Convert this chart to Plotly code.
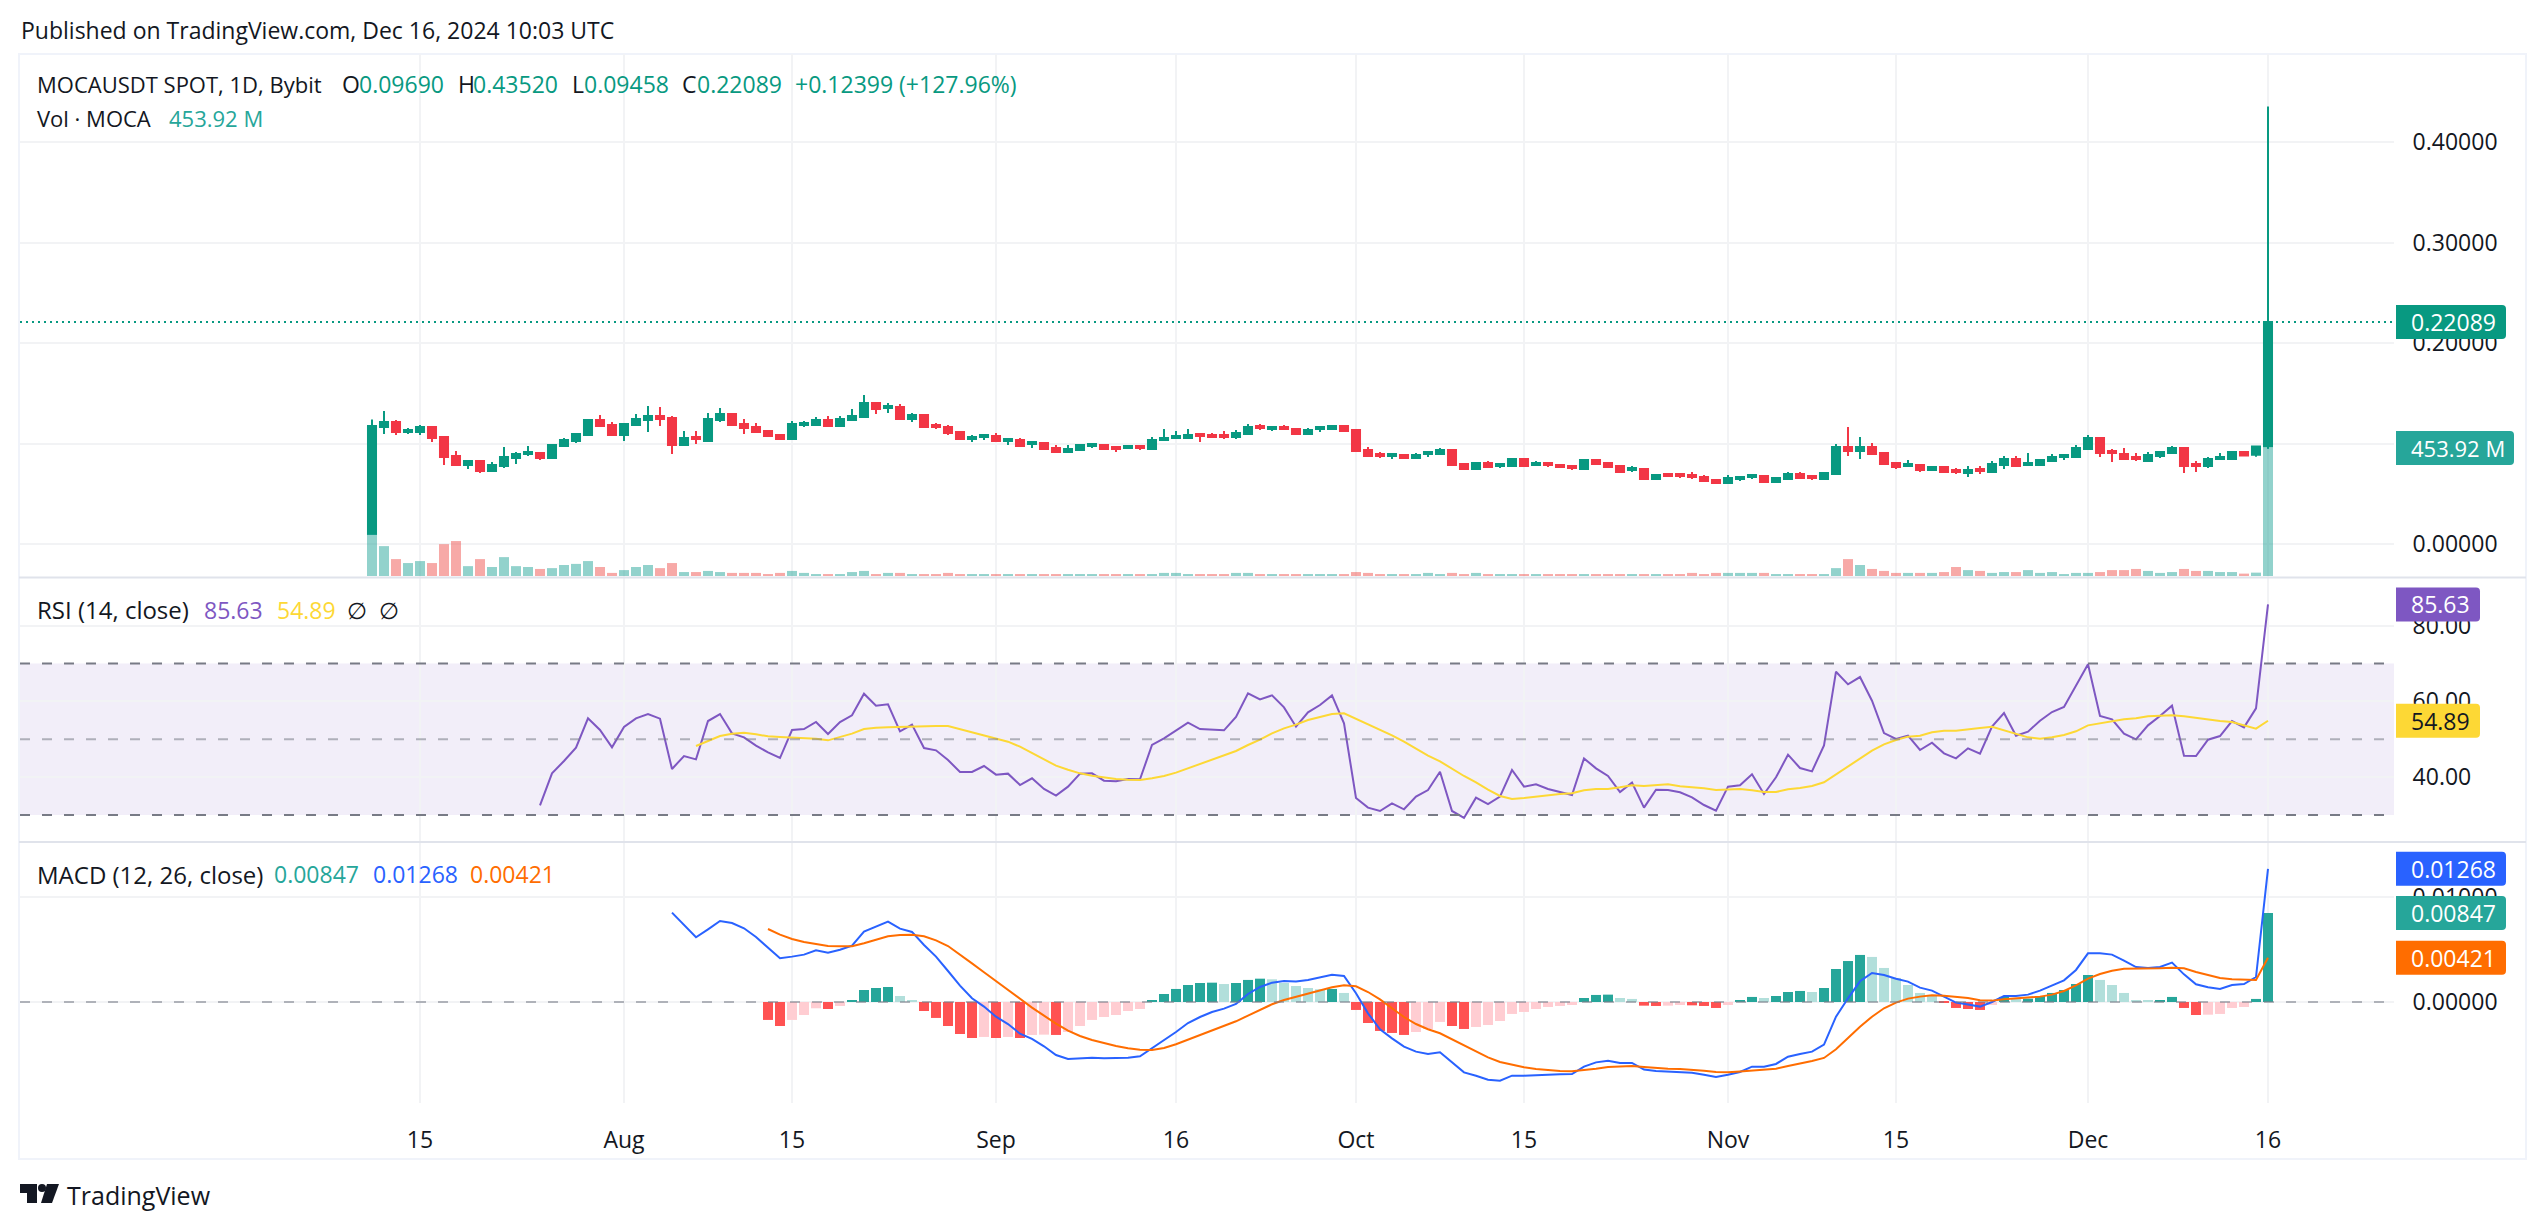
import pandas as pd
import plotly.graph_objects as go

W, H = 2546, 1230
FONT = "Open Sans"
INK = "#131722"
UP, DOWN = "#089981", "#F23645"

first_day = "2024-07-11"
opens = [
.0100,.1164,.1214,.1114,.1114,.1164,.1065,.0876,.0786,.0826,
.0726,.0776,.0856,.0896,.0905,.0856,.0975,.1025,.1085,.1234,
.1184,.1085,.1184,.1234,.1274,.1254,.0985,.1065,.1025,.1234,
.1294,.1194,.1164,.1124,.1085,.1045,.1184,.1184,.1234,.1174,
.1234,.1264,.1403,.1353,.1363,.1244,.1284,.1184,.1164,.1114,
.1045,.1065,.1075,.1025,.1035,.0995,.1005,.0955,.0915,.0935,
.0975,.0985,.0965,.0955,.0975,.0945,.1035,.1055,.1055,.1095,
.1085,.1085,.1065,.1095,.1174,.1144,.1164,.1144,.1095,.1144,
.1144,.1174,.1134,.0935,.0896,.0876,.0886,.0856,.0896,.0896,
.0935,.0796,.0746,.0806,.0776,.0776,.0846,.0786,.0806,.0786,
.0776,.0746,.0836,.0806,.0776,.0736,.0746,.0647,.0697,.0697,
.0687,.0667,.0637,.0607,.0647,.0667,.0677,.0617,.0647,.0697,
.0677,.0647,.0697,.0965,.0925,.0965,.0905,.0806,.0776,.0786,
.0736,.0766,.0736,.0706,.0746,.0716,.0786,.0846,.0786,.0786,
.0826,.0866,.0866,.0945,.1055,.0925,.0896,.0866,.0826,.0876,
.0905,.0955,.0796,.0776,.0846,.0846,.0915,.0887,.0969]
highs = [
.1240,.1323,.1234,.1154,.1184,.1164,.1065,.0925,.0836,.0826,
.0816,.0965,.0915,.0975,.0915,.0995,.1055,.1095,.1244,.1284,
.1214,.1204,.1294,.1373,.1363,.1274,.1124,.1124,.1303,.1353,
.1294,.1244,.1204,.1134,.1095,.1224,.1224,.1264,.1274,.1274,
.1343,.1483,.1403,.1403,.1393,.1303,.1294,.1204,.1184,.1124,
.1085,.1085,.1105,.1045,.1055,.1025,.1005,.0985,.0985,.0995,
.0995,.0985,.0965,.0985,.0975,.1065,.1144,.1124,.1144,.1095,
.1105,.1124,.1134,.1194,.1194,.1174,.1184,.1154,.1154,.1174,
.1174,.1184,.1144,.0965,.0915,.0905,.0896,.0905,.0925,.0955,
.0945,.0806,.0806,.0826,.0806,.0856,.0856,.0826,.0806,.0796,
.0776,.0846,.0846,.0816,.0786,.0776,.0756,.0697,.0697,.0697,
.0716,.0687,.0647,.0687,.0667,.0697,.0687,.0667,.0716,.0716,
.0687,.0716,.0995,.1164,.1065,.1005,.0915,.0816,.0836,.0796,
.0766,.0776,.0756,.0776,.0776,.0826,.0876,.0876,.0905,.0836,
.0896,.0886,.0985,.1085,.1065,.0945,.0955,.0905,.0915,.0925,
.0975,.0965,.0826,.0866,.0905,.0925,.0925,.0969,.4352]
lows = [
.0100,.1095,.1085,.1095,.1085,.1015,.0786,.0786,.0746,.0706,
.0726,.0756,.0796,.0876,.0836,.0856,.0965,.1005,.1085,.1164,
.1085,.1025,.1174,.1114,.1174,.0896,.0985,.0995,.1025,.1214,
.1184,.1095,.1105,.1075,.1035,.1035,.1164,.1184,.1174,.1164,
.1234,.1264,.1294,.1303,.1244,.1214,.1164,.1144,.1085,.1045,
.1015,.1035,.1025,.0985,.0975,.0955,.0945,.0905,.0915,.0935,
.0955,.0945,.0915,.0955,.0935,.0945,.1035,.1055,.1055,.1015,
.1055,.1045,.1045,.1085,.1134,.1124,.1134,.1095,.1095,.1114,
.1134,.1124,.0925,.0876,.0856,.0846,.0856,.0856,.0866,.0896,
.0786,.0746,.0746,.0756,.0756,.0776,.0776,.0776,.0766,.0756,
.0736,.0746,.0796,.0766,.0716,.0716,.0637,.0637,.0677,.0657,
.0647,.0627,.0607,.0607,.0627,.0647,.0617,.0617,.0647,.0657,
.0637,.0647,.0697,.0876,.0846,.0896,.0796,.0746,.0776,.0716,
.0726,.0716,.0697,.0667,.0697,.0716,.0746,.0766,.0776,.0786,
.0826,.0836,.0856,.0945,.0866,.0816,.0836,.0826,.0826,.0856,
.0896,.0706,.0716,.0756,.0836,.0846,.0870,.0868,.09458]
closes = [
.1174,.1214,.1114,.1134,.1164,.1055,.0866,.0786,.0826,.0726,
.0786,.0866,.0896,.0915,.0856,.0985,.1035,.1095,.1234,.1174,
.1085,.1194,.1244,.1274,.1244,.0985,.1055,.1045,.1244,.1294,
.1184,.1154,.1114,.1075,.1045,.1194,.1204,.1234,.1174,.1244,
.1274,.1403,.1343,.1373,.1244,.1284,.1164,.1164,.1105,.1045,
.1065,.1085,.1025,.1045,.0975,.1015,.0945,.0915,.0945,.0985,
.0995,.0945,.0945,.0975,.0955,.1035,.1055,.1075,.1085,.1075,
.1065,.1065,.1105,.1164,.1154,.1164,.1144,.1095,.1134,.1164,
.1174,.1124,.0925,.0876,.0876,.0896,.0856,.0886,.0915,.0935,
.0786,.0746,.0806,.0766,.0796,.0846,.0776,.0806,.0786,.0766,
.0756,.0836,.0796,.0766,.0716,.0756,.0647,.0687,.0677,.0677,
.0667,.0627,.0607,.0657,.0667,.0687,.0617,.0657,.0697,.0657,
.0657,.0706,.0965,.0925,.0965,.0896,.0796,.0766,.0796,.0736,
.0766,.0716,.0716,.0736,.0726,.0796,.0846,.0776,.0806,.0836,
.0866,.0886,.0955,.1055,.0905,.0905,.0846,.0846,.0886,.0915,
.0955,.0776,.0776,.0846,.0866,.0915,.0880,.0969,.22089]
volumes_m = [
149,106,60,46,53,46,113,124,35,60,
32,67,35,32,25,28,39,43,53,32,
11,21,32,39,28,46,14,14,18,14,
11,11,11,7,11,18,11,7,7,7,
14,18,7,11,11,7,7,7,11,7,
7,7,7,7,7,7,7,7,7,7,
7,7,7,7,7,7,11,11,7,7,
7,7,11,11,7,7,7,7,7,7,
7,7,14,11,7,7,7,7,11,7,
11,7,11,7,7,7,7,7,7,7,
7,7,7,7,7,7,7,7,7,7,
11,7,11,11,11,11,11,7,7,7,
7,7,28,60,39,25,18,11,11,11,
11,14,32,21,18,11,14,14,21,11,
14,7,11,11,14,21,21,25,18,11,
14,25,18,18,14,14,8.5,12,453.92]

rsi_start = 14
rsi_values = [
32.55,41.00,44.26,47.78,55.53,52.45,47.87,53.24,55.53,56.67,
55.44,42.15,45.58,44.70,54.82,56.67,51.57,50.51,48.31,46.55,
45.05,52.45,52.71,54.56,51.39,54.56,56.32,62.04,58.87,59.23,
52.10,53.86,47.69,47.08,44.52,41.36,41.36,42.94,40.65,40.92,
37.92,39.68,36.87,35.11,37.48,40.92,41.00,39.07,38.89,39.51,
39.42,48.49,50.25,52.27,54.38,52.71,52.54,52.36,55.88,62.13,
60.55,61.60,58.43,53.33,57.11,59.05,61.60,54.21,34.49,31.94,
31.06,33.08,31.50,34.84,36.60,41.44,31.06,29.21,34.58,32.90,
34.84,41.88,37.48,38.10,36.87,36.07,35.28,44.96,42.32,40.30,
36.07,38.54,31.94,36.69,36.60,35.99,34.67,32.64,31.14,37.48,
37.83,40.74,35.55,39.95,45.93,42.41,41.53,48.40,67.85,64.51,
66.44,60.19,51.65,50.07,50.95,47.17,49.10,46.29,44.96,47.61,
46.20,53.33,56.94,50.95,52.01,54.91,57.20,58.52,64.24,69.79,
56.14,55.26,51.48,49.98,53.68,56.14,58.87,45.67,45.58,49.89,
50.86,54.82,53.15,58.17,85.63]
rsi_ma_start = 27
rsi_ma_values = [
48.22,49.45,50.86,51.48,51.74,51.30,50.77,50.60,50.42,50.25,
50.16,49.72,50.69,51.48,52.71,53.06,53.15,53.24,53.50,53.50,
53.50,53.50,52.71,51.92,51.13,50.33,49.37,48.05,46.37,44.70,
43.03,41.97,41.00,40.39,39.86,39.51,39.33,39.24,39.68,40.30,
41.18,42.32,43.29,44.44,45.58,46.90,48.49,49.89,51.57,52.89,
53.86,55.09,55.88,56.67,56.85,55.44,54.03,52.45,51.04,49.37,
47.43,45.67,44.17,42.15,40.30,38.63,36.69,35.02,34.23,34.49,
34.84,35.28,35.55,35.72,36.51,36.87,36.87,37.31,37.83,37.66,
37.92,38.10,37.57,37.39,37.04,36.60,36.69,36.87,36.51,36.07,
36.07,36.78,37.13,37.66,38.63,40.74,42.76,45.05,46.99,48.67,
49.81,50.69,50.95,51.83,52.27,52.27,52.71,52.98,53.33,52.36,
51.30,50.51,50.16,50.51,51.13,52.10,53.68,54.21,54.82,55.26,
55.53,56.06,56.23,56.32,56.06,55.62,55.26,54.82,54.56,53.68,
52.80,54.89]

macd_start = 25
macd_milli = [
8.51,7.33,6.16,6.92,7.71,7.52,7.02,6.19,5.21,4.16,
4.32,4.51,4.92,4.70,4.98,5.37,6.70,7.21,7.65,6.98,
6.67,5.43,4.32,2.95,1.56,0.35,-0.44,-1.40,-2.10,-3.02,
-3.52,-4.22,-5.05,-5.43,-5.40,-5.30,-5.37,-5.37,-5.30,-5.17,
-4.41,-3.62,-2.86,-2.00,-1.43,-0.95,-0.63,-0.19,0.76,1.43,
1.84,2.00,1.94,2.10,2.35,2.60,2.48,0.83,-1.08,-2.60,
-3.46,-4.25,-4.73,-4.95,-4.79,-5.75,-6.70,-7.02,-7.40,-7.49,
-7.02,-7.02,-6.95,-6.92,-6.89,-6.86,-6.16,-5.75,-5.59,-5.81,
-5.81,-6.44,-6.57,-6.60,-6.63,-6.73,-6.92,-7.14,-6.92,-6.67,
-6.16,-6.16,-5.90,-5.21,-4.95,-4.73,-4.06,-1.40,0.35,1.97,
2.76,2.57,2.22,1.94,1.37,1.08,0.51,-0.06,-0.25,-0.44,
0.00,0.57,0.57,0.70,1.08,1.59,2.06,3.05,4.63,4.63,
4.51,3.94,3.33,3.24,3.33,3.75,2.63,1.68,1.40,1.24,
1.62,1.71,2.38,12.68]
signal_start = 33
signal_milli = [
6.95,6.41,6.00,5.71,5.52,5.33,5.30,5.30,5.59,5.90,
6.25,6.38,6.41,6.25,5.87,5.33,4.54,3.68,2.83,1.97,
1.11,0.29,-0.54,-1.30,-2.06,-2.73,-3.24,-3.62,-3.94,-4.19,
-4.41,-4.54,-4.57,-4.38,-4.03,-3.59,-3.14,-2.73,-2.32,-1.84,
-1.30,-0.76,-0.22,0.19,0.51,0.79,1.08,1.40,1.59,1.49,
0.95,0.25,-0.60,-1.43,-2.10,-2.60,-2.98,-3.56,-4.16,-4.73,
-5.27,-5.71,-6.00,-6.22,-6.38,-6.48,-6.57,-6.60,-6.51,-6.35,
-6.19,-6.13,-6.10,-6.19,-6.29,-6.35,-6.38,-6.44,-6.54,-6.67,
-6.70,-6.63,-6.54,-6.48,-6.35,-6.10,-5.87,-5.62,-5.33,-4.51,
-3.43,-2.35,-1.40,-0.60,-0.06,0.32,0.51,0.63,0.60,0.51,
0.38,0.16,0.13,0.25,0.32,0.38,0.51,0.70,1.05,1.59,
2.22,2.67,2.98,3.17,3.17,3.17,3.21,3.27,3.21,2.86,
2.54,2.29,2.16,2.10,2.10,4.21]
hist_milli = [
-1.71,-2.29,-1.71,-1.24,-0.60,-0.67,-0.38,0.10,1.14,1.33,
1.43,0.57,0.19,-0.86,-1.52,-2.29,-3.05,-3.43,-3.33,-3.43,
-3.33,-3.43,-3.14,-3.11,-3.14,-2.86,-2.29,-1.71,-1.43,-1.24,
-0.86,-0.67,0.19,0.76,1.24,1.62,1.81,1.84,1.71,1.81,
2.10,2.22,2.16,1.81,1.52,1.33,1.21,1.24,0.86,-0.76,
-2.00,-2.76,-2.95,-3.14,-2.86,-2.57,-1.90,-2.29,-2.57,-2.38,
-2.19,-1.81,-1.14,-0.95,-0.67,-0.48,-0.38,-0.29,0.38,0.67,
0.70,0.38,0.29,-0.35,-0.38,-0.35,-0.29,-0.32,-0.38,-0.57,
-0.29,0.10,0.48,0.38,0.57,0.95,1.05,0.95,1.33,3.14,
3.90,4.48,4.29,3.24,2.29,1.62,0.86,0.67,-0.10,-0.57,
-0.67,-0.76,-0.29,0.48,0.29,0.32,0.57,0.86,1.14,1.71,
2.57,2.10,1.62,0.86,0.19,0.10,0.19,0.48,-0.57,-1.24,
-1.21,-1.14,-0.57,-0.48,0.29,8.47]

tick_days = ["2024-07-15","2024-08-01","2024-08-15","2024-09-01","2024-09-16","2024-10-01",
             "2024-10-15","2024-11-01","2024-11-15","2024-12-01","2024-12-16"]
tick_names = ["15","Aug","15","Sep","16","Oct","15","Nov","15","Dec","16"]
price_ticks = [0.0, 0.1, 0.2, 0.3, 0.4]
price_tick_labels = ["0.00000", "", "0.20000", "0.30000", "0.40000"]
rsi_ticks = [40, 60, 80]
macd_ticks = [0.0, 0.01]

n = len(closes)
assert len(opens) == len(highs) == len(lows) == n == len(volumes_m) == 159
assert len(rsi_values) == n - rsi_start, len(rsi_values)
assert len(rsi_ma_values) == n - rsi_ma_start, len(rsi_ma_values)
assert len(macd_milli) == n - macd_start, len(macd_milli)
assert len(signal_milli) == n - signal_start, len(signal_milli)
assert len(hist_milli) == n - signal_start, len(hist_milli)

days = pd.date_range(first_day, periods=n)
macd_line = [v / 1000 for v in macd_milli]
signal_line = [v / 1000 for v in signal_milli]
hist = [v / 1000 for v in hist_milli]

PX_PER_DAY = 12.0
LEFT, RIGHT = 20, 2394
x0 = days[0] - pd.Timedelta(days=(372 - LEFT) / PX_PER_DAY)
x1 = days[0] + pd.Timedelta(days=(RIGHT - 372) / PX_PER_DAY)
BAR_MS = 10 / PX_PER_DAY * 86400000

fx = lambda p: p / W
fy = lambda p: 1 - p / H

fig = go.Figure()
fig.add_trace(go.Candlestick(
    x=days, open=opens, high=highs, low=lows, close=closes, xaxis="x", yaxis="y",
    increasing=dict(line=dict(color=UP, width=2), fillcolor=UP),
    decreasing=dict(line=dict(color=DOWN, width=2), fillcolor=DOWN),
    whiskerwidth=0, showlegend=False, hoverinfo="skip"))
fig.add_trace(go.Bar(
    x=days, y=volumes_m, xaxis="x", yaxis="y2", width=BAR_MS,
    marker=dict(color=["rgba(38,166,154,0.5)" if c >= o else "rgba(239,83,80,0.5)"
                       for o, c in zip(opens, closes)], line_width=0),
    showlegend=False, hoverinfo="skip"))
fig.add_trace(go.Scatter(
    x=days[rsi_start:], y=rsi_values, xaxis="x2", yaxis="y3", mode="lines",
    line=dict(color="#7E57C2", width=2), showlegend=False, hoverinfo="skip"))
fig.add_trace(go.Scatter(
    x=days[rsi_ma_start:], y=rsi_ma_values, xaxis="x2", yaxis="y3", mode="lines",
    line=dict(color="#FDD835", width=2), showlegend=False, hoverinfo="skip"))

hist_colors = []
for i, v in enumerate(hist):
    prev = hist[i - 1] if i else 0
    if v >= 0:
        hist_colors.append("#26A69A" if v >= prev else "#B2DFDB")
    else:
        hist_colors.append("#FF5252" if v <= prev else "#FFCDD2")
fig.add_trace(go.Bar(
    x=days[signal_start:], y=hist, xaxis="x3", yaxis="y4", width=BAR_MS,
    marker=dict(color=hist_colors, line_width=0), showlegend=False, hoverinfo="skip"))
fig.add_trace(go.Scatter(
    x=days[macd_start:], y=macd_line, xaxis="x3", yaxis="y4", mode="lines",
    line=dict(color="#2962FF", width=2), showlegend=False, hoverinfo="skip"))
fig.add_trace(go.Scatter(
    x=days[signal_start:], y=signal_line, xaxis="x3", yaxis="y4", mode="lines",
    line=dict(color="#FF6D00", width=2), showlegend=False, hoverinfo="skip"))

GRID = "#F2F3F5"
tickfont = dict(family=FONT, size=23, color=INK)
def xaxis(**kw):
    base = dict(domain=[fx(LEFT), fx(RIGHT)], type="date", range=[x0, x1], tickmode="array",
                tickvals=tick_days, ticktext=tick_names, showgrid=True, gridcolor=GRID, gridwidth=2,
                zeroline=False, showline=False, ticks="", showticklabels=False,
                rangeslider=dict(visible=False), tickfont=tickfont)
    base.update(kw)
    return base
def yaxis(**kw):
    base = dict(side="right", showgrid=True, gridcolor=GRID, gridwidth=2, zeroline=False, showline=False,
                ticks="outside", ticklen=13, tickcolor="rgba(0,0,0,0)", tickfont=tickfont, tickmode="array")
    base.update(kw)
    return base

shapes = []
annots = []

def text(px, py, s, color=INK, size=23, family=FONT, weight=None):
    f = dict(family=family, size=size, color=color)
    if weight:
        f["weight"] = weight
    annots.append(dict(xref="paper", yref="paper", x=fx(px), y=fy(py), text=s, showarrow=False,
                       xanchor="left", yanchor="middle", font=f, borderpad=0))

def badge(yref, value, label, fill, width, ink="#FFFFFF", size=23):
    w, h, r = width, 17, 4
    path = (f"M 2 {-h} L {w - r} {-h} Q {w} {-h} {w} {-h + r} L {w} {h - r} "
            f"Q {w} {h} {w - r} {h} L 2 {h} Z")
    shapes.append(dict(type="path", xref="paper", xsizemode="pixel", xanchor=fx(RIGHT),
                       yref=yref, ysizemode="pixel", yanchor=value, path=path,
                       fillcolor=fill, line_width=0, layer="above"))
    annots.append(dict(xref="paper", yref=yref, x=fx(2409), y=value, text=label, showarrow=False,
                       xanchor="left", yanchor="middle", font=dict(family=FONT, size=size, color=ink)))

def refline(yref, value, color, dash):
    shapes.append(dict(type="line", xref="paper", x0=fx(LEFT), x1=fx(RIGHT), yref=yref, y0=value, y1=value,
                       line=dict(color=color, width=2, dash=dash), layer="above"))

FRAME = "#F0F3FA"
shapes.append(dict(type="rect", xref="paper", yref="paper", x0=fx(19), x1=fx(2526), y0=fy(1159), y1=fy(54),
                   line=dict(color=FRAME, width=2), fillcolor="rgba(0,0,0,0)", layer="below"))
for sep in (577.5, 842):
    shapes.append(dict(type="line", xref="paper", yref="paper", x0=fx(19), x1=fx(2526), y0=fy(sep), y1=fy(sep),
                       line=dict(color="#E0E3EB", width=2), layer="above"))

shapes.append(dict(type="rect", xref="paper", x0=fx(LEFT), x1=fx(RIGHT), yref="y3", y0=30, y1=70,
                   fillcolor="rgba(126,87,194,0.1)", line_width=0, layer="below"))
D = "10px,12px"
refline("y3", 70, "#787B86", D)
refline("y3", 30, "#787B86", D)
refline("y3", 50, "rgba(120,123,134,0.55)", D)
refline("y4", 0, "rgba(120,123,134,0.55)", D)
refline("y", closes[-1], UP, "2px,4px")

badge("y", closes[-1], "0.22089", UP, 112)
badge("y2", volumes_m[-1], "453.92 M", "#26A69A", 120, size=22)
badge("y3", rsi_values[-1], "85.63", "#7E57C2", 86)
badge("y3", rsi_ma_values[-1], "54.89", "#FDD835", 86, INK)
badge("y4", macd_line[-1], "0.01268", "#2962FF", 112)
badge("y4", hist[-1], "0.00847", "#26A69A", 112)
badge("y4", signal_line[-1], "0.00421", "#FF6D00", 112)

text(20, 30, "Published on TradingView.com, Dec 16, 2024 10:03 UTC")
text(36, 84, "MOCAUSDT SPOT, 1D, Bybit", size=22)
for px, s, c in [(341, "O", INK), (358, "0.09690", UP), (457, "H", INK), (472, "0.43520", UP),
                 (571, "L", INK), (583, "0.09458", UP), (681, "C", INK), (696, "0.22089", UP),
                 (794, "+0.12399 (+127.96%)", UP)]:
    text(px, 84, s, c)
text(36, 118, "Vol · MOCA", size=22)
text(168, 118, "453.92 M", "#26A69A", size=22)
text(36, 610, "RSI (14, close)", size=24)
text(203, 610, "85.63", "#7E57C2")
text(276, 610, "54.89", "#FDD835")
text(346, 610, "∅")
text(378, 610, "∅")
text(36, 874, "MACD (12, 26, close)", size=24)
text(273, 874, "0.00847", "#26A69A")
text(372, 874, "0.01268", "#2962FF")
text(469, 874, "0.00421", "#FF6D00")

text(66, 1195, "TradingView", INK, 25)
def pxpath(points):
    return "M " + " L ".join(f"{fx(a)} {fy(b)}" for a, b in points) + " Z"
shapes.append(dict(type="path", xref="paper", yref="paper",
                   path=pxpath([(20, 1184), (37, 1184), (37, 1203), (27, 1203), (27, 1193), (20, 1193)]),
                   fillcolor=INK, line_width=0))
shapes.append(dict(type="circle", xref="paper", yref="paper", x0=fx(38), x1=fx(46), y0=fy(1192), y1=fy(1184),
                   fillcolor=INK, line_width=0))
shapes.append(dict(type="path", xref="paper", yref="paper",
                   path=pxpath([(47, 1184), (59, 1184), (52, 1203), (41, 1203)]),
                   fillcolor=INK, line_width=0))

fig.update_layout(
    width=W, height=H, margin=dict(l=0, r=0, t=0, b=0), autosize=False,
    paper_bgcolor="#FFFFFF", plot_bgcolor="#FFFFFF", showlegend=False, barmode="overlay",
    boxmode="group", boxgap=0.33, boxgroupgap=0,
    xaxis=xaxis(anchor="y"),
    xaxis2=xaxis(anchor="y3"),
    xaxis3=xaxis(anchor="y4", showticklabels=True, ticks="outside", ticklen=16, tickcolor="rgba(0,0,0,0)"),
    yaxis=yaxis(domain=[fy(577), fy(54)], range=[-0.03284, 0.48756], anchor="x",
                tickvals=price_ticks, ticktext=price_tick_labels),
    yaxis2=dict(domain=[fy(577), fy(54)], overlaying="y", side="right", anchor="x",
                range=[-3.5, 1851], showgrid=False, zeroline=False, showticklabels=False),
    yaxis3=yaxis(domain=[fy(841), fy(578)], range=[23.13, 92.6], anchor="x2",
                 tickvals=rsi_ticks, tickformat=".2f"),
    yaxis4=yaxis(domain=[fy(1103), fy(843)], range=[-0.00962, 0.01514], anchor="x3",
                 tickvals=macd_ticks, tickformat=".5f"),
    shapes=shapes, annotations=annots,
)
fig.write_html("out.html", include_plotlyjs=True, default_width=f"{W}px", default_height=f"{H}px",
               post_script="document.body.style.margin='0';", config=dict(displayModeBar=False))
